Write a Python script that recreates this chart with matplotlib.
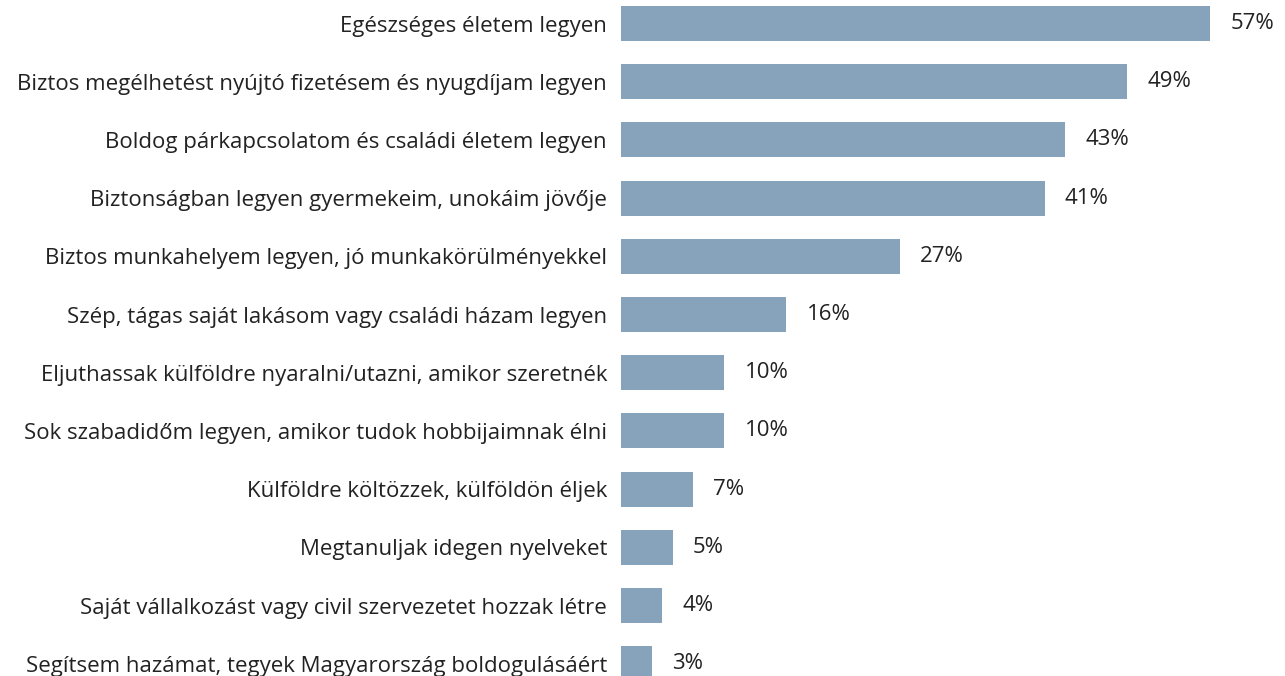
import matplotlib.pyplot as plt

# Survey answers, top to bottom
categories = [
    "Egészséges életem legyen",
    "Biztos megélhetést nyújtó fizetésem és nyugdíjam legyen",
    "Boldog párkapcsolatom és családi életem legyen",
    "Biztonságban legyen gyermekeim, unokáim jövője",
    "Biztos munkahelyem legyen, jó munkakörülményekkel",
    "Szép, tágas saját lakásom vagy családi házam legyen",
    "Eljuthassak külföldre nyaralni/utazni, amikor szeretnék",
    "Sok szabadidőm legyen, amikor tudok hobbijaimnak élni",
    "Külföldre költözzek, külföldön éljek",
    "Megtanuljak idegen nyelveket",
    "Saját vállalkozást vagy civil szervezetet hozzak létre",
    "Segítsem hazámat, tegyek Magyarország boldogulásáért",
]
values = [57, 49, 43, 41, 27, 16, 10, 10, 7, 5, 4, 3]

plt.rcParams['font.family'] = ['Open Sans', 'DejaVu Sans']

fig = plt.figure(figsize=(12.85, 6.76), dpi=100)
ax = fig.add_axes([621 / 1285, 0, 664 / 1285, 1])

pos = list(range(len(values)))
ax.barh(pos, values, height=0.6, color='#87a3bb')

# percentage labels just past the end of each bar
for p, v in zip(pos, values):
    ax.text(v + 1.95, p, f"{v}%", va='center', ha='left', fontsize=16, color='#222222')

ax.set_yticks(pos)
ax.set_yticklabels(categories, fontsize=16, color='#222222')
ax.tick_params(axis='y', length=0, pad=10)
ax.set_xticks([])
ax.set_xlim(0, 64.26)
ax.set_ylim(11.21, -0.404)
for s in ax.spines.values():
    s.set_visible(False)

fig.savefig('out.png', dpi=100)
